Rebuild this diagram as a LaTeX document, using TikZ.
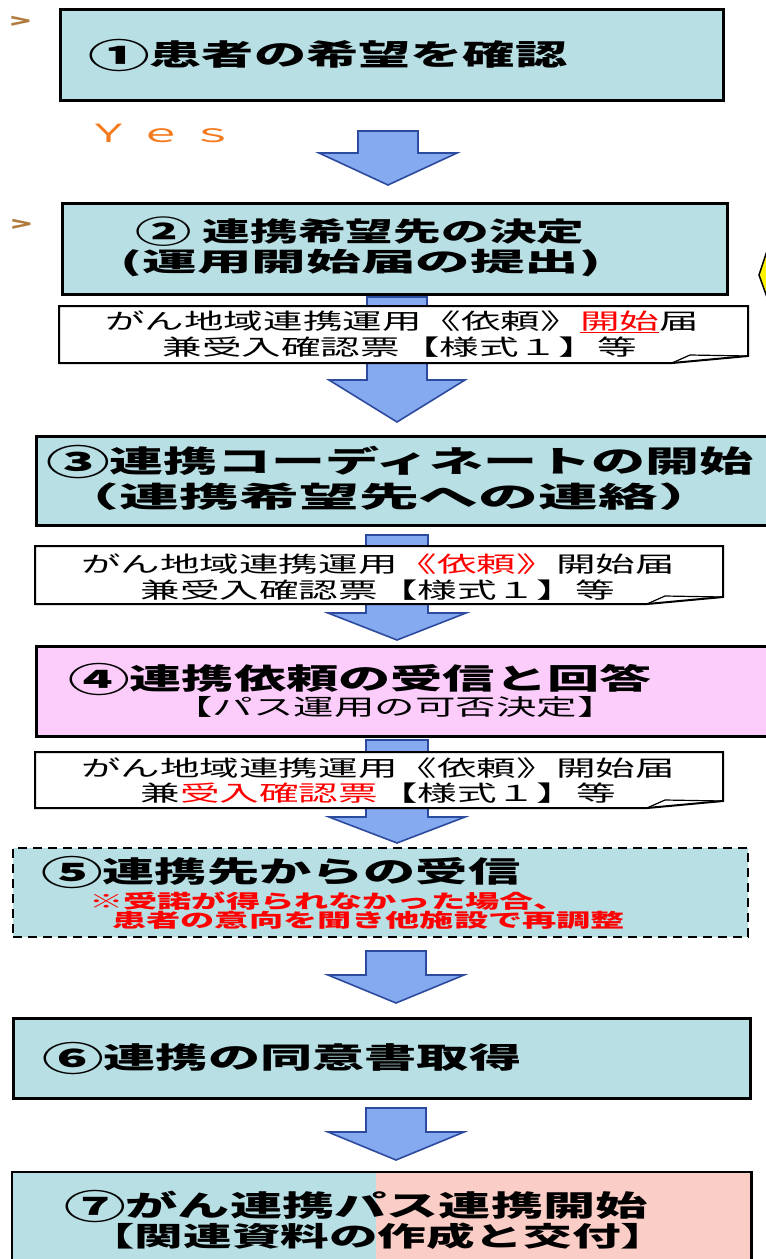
\documentclass[tikz,border=0pt]{standalone}
\usepackage{fontspec}
\newfontfamily\jp[FakeStretch=1.8]{Noto Sans CJK JP}
\newfontfamily\jpw[FakeStretch=2.1]{Noto Sans CJK JP}
\newcommand\fs[1]{\fontsize{#1}{#1}\selectfont}
\newcommand\cnum[1]{\raisebox{-0.09em}{\scalebox{1.18}{#1}}}
\definecolor{teal1}{HTML}{B8DFE4}
\definecolor{pink1}{HTML}{FCCCFA}
\definecolor{salmon1}{HTML}{FBCDC7}
\definecolor{arrfill}{HTML}{86AAF0}
\definecolor{arrline}{HTML}{2C4A9E}
\definecolor{gtc}{HTML}{B07A3C}
\definecolor{yesc}{HTML}{F47A1E}
\definecolor{redc}{HTML}{FF0000}
\newcommand\blkarrow[6]{%
  \draw[arr] (#1-#5,#2) -- (#1+#5,#2) -- (#1+#5,#3) -- (#1+#6,#3) -- (#1,#4) -- (#1-#6,#3) -- (#1-#5,#3) -- cycle;}
\newcommand\notebox[4]{% L T R B
  \draw[notestyle] (#1,#2) -- (#3,#2) -- (#3,#4-7) -- (#3-76,#4) -- (#1,#4) -- cycle;
  \draw[line width=1.2pt] (#3-76,#4) -- (#3-58,#4-8) -- (#3,#4-7);}
\begin{document}
\begin{tikzpicture}[x=1pt,y=-1pt,
  box/.style={draw=black, line width=2.5pt, fill=teal1, anchor=north west, inner sep=0pt},
  arr/.style={draw=arrline, line width=1.6pt, fill=arrfill, line join=miter},
  notestyle/.style={draw=black, line width=2pt, fill=white, line join=miter},
  hd/.style={inner sep=0pt, font=\jp\bfseries\fs{29}},
  nt/.style={inner sep=0pt, font=\jp\fs{22}, align=center},
]
\useasboundingbox (0,0) rectangle (766,1259);
\clip (0,0) rectangle (766,1259);

% arrows
\blkarrow{388}{131}{153}{185}{30}{69}
\blkarrow{397}{297}{380}{422}{30}{68}
\blkarrow{397}{535}{613}{640}{31}{69}
\blkarrow{397}{740}{817}{843}{31}{68}
\blkarrow{396}{951}{975}{1003}{30}{68}
\blkarrow{396}{1108}{1132}{1160}{30}{68}

% marks
\node[inner sep=0pt, text=gtc, font=\jp\bfseries\fs{19}] (g1) at (21,22) {>};
\node[inner sep=0pt, text=gtc, font=\jp\bfseries\fs{19}] (g2) at (22,225) {>};

% box 1
\node[box, minimum width=663pt, minimum height=91pt] (b1) at (59,8) {};
\node[hd, anchor=west] (t1) at (88,55) {\cnum{①}患者の希望を確認};
\node[inner sep=0pt, anchor=west, text=yesc, font=\jp\fs{25}] (yes) at (86,133) {Ｙ\hspace{7pt}ｅ\hspace{7pt}ｓ};

% box 2
\node[box, minimum width=665pt, minimum height=91pt] (b2) at (61,202) {};
\node[inner sep=0pt, font=\jp\bfseries\fs{26.5}] (t2a) at (360,232) {\cnum{②} 連携希望先の決定};
\node[inner sep=0pt, font=\jpw\bfseries\fs{26}] (t2b) at (361,263) {(運用開始届の提出)};

% yellow shape at right edge
\draw[fill=yellow, line width=1.5pt] (768,248) -- (759,275) -- (768,300);

% note 2
\notebox{59}{306}{748}{363}
\node[nt] (n2a) at (402,322) {がん地域連携運用《依頼》\textcolor{redc}{\underline{開始}}届};
\node[nt] (n2b) at (400,347) {兼受入確認票【様式１】等};

% box 3
\node[box, minimum width=745pt, minimum height=89pt] (b3) at (35,435) {};
\node[inner sep=0pt, font=\jp\bfseries\fs{30}] (t3a) at (400,462) {\cnum{③}連携コーディネートの開始};
\node[inner sep=0pt, font=\jpw\bfseries\fs{28.5}] (t3b) at (389,497) {（連携希望先への連絡）};

% note 3
\notebox{35}{546}{723}{604}
\node[nt] (n3a) at (378,564) {がん地域連携運用\textcolor{redc}{《依頼》}開始届};
\node[nt] (n3b) at (378,590) {兼受入確認票【様式１】等};

% box 4
\node[box, fill=pink1, minimum width=745pt, minimum height=90pt] (b4) at (35,645) {};
\node[hd, anchor=west] (t4a) at (68,679) {\cnum{④}連携依頼の受信と回答};
\node[inner sep=0pt, font=\jp\fs{22.5}] (t4b) at (395,707) {【パス運用の可否決定】};

% note 4
\notebox{35}{752}{723}{808}
\node[nt] (n4a) at (378,768) {がん地域連携運用《依頼》開始届};
\node[nt] (n4b) at (378,793) {兼\textcolor{redc}{受入確認票}【様式１】等};

% box 5 dashed
\node[box, dash pattern=on 9pt off 6pt, line width=2pt, minimum width=735pt, minimum height=89pt] (b5) at (12,847) {};
\node[hd, anchor=west] (t5a) at (41,872) {\cnum{⑤}連携先からの受信};
\node[inner sep=0pt, anchor=west, text=redc, font=\jp\bfseries\fs{19}] (t5b) at (89,901) {※受諾が得られなかった場合、};
\node[inner sep=0pt, anchor=west, text=redc, font=\jp\bfseries\fs{19}] (t5c) at (112,920) {患者の意向を聞き他施設で再調整};

% box 6
\node[box, minimum width=737pt, minimum height=80pt] (b6) at (12,1017) {};
\node[hd, anchor=west] (t6) at (42,1058) {\cnum{⑥}連携の同意書取得};

% box 7
\node[box, draw=none, minimum width=737pt, minimum height=100pt] (b7) at (12,1172) {};
\fill[salmon1] (376,1172) rectangle (b7.south east);
\draw[line width=2.5pt] (b7.north west) rectangle (b7.south east);
\node[hd, anchor=west] (t7a) at (64,1206) {\cnum{⑦}がん連携パス連携開始};
\node[inner sep=0pt, anchor=west, font=\jp\bfseries\fs{27}] (t7b) at (86,1236) {【関連資料の作成と交付】};
\end{tikzpicture}
\end{document}
